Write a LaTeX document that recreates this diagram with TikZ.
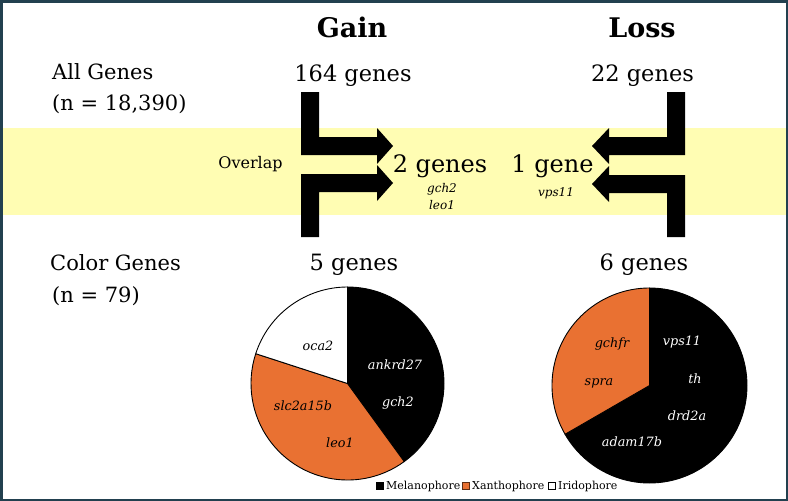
\documentclass[tikz,border=0pt]{standalone}
\usepackage{fontspec}
\setmainfont{DejaVu Serif}
\definecolor{bordercol}{HTML}{22404F}
\definecolor{bandcol}{HTML}{FFFDB3}
\definecolor{orangecol}{HTML}{E97132}
\tikzset{
  titletext/.style={font=\fontsize{27}{30}\selectfont\bfseries, anchor=base, inner sep=0pt},
  rowtext/.style={font=\fontsize{21}{25}\selectfont, anchor=base west, inner sep=0pt},
  counttext/.style={font=\fontsize{22.5}{26}\selectfont, anchor=base, inner sep=0pt},
  overlaptext/.style={font=\fontsize{24}{28}\selectfont, anchor=base, inner sep=0pt},
  genetext/.style={font=\fontsize{12}{14}\selectfont\itshape, anchor=base, inner sep=0pt},
  pietext/.style={font=\fontsize{12.8}{15}\selectfont\itshape, inner sep=0pt},
  legtext/.style={font=\fontsize{11}{13}\selectfont, anchor=west, inner sep=0pt},
  blockarrow/.style={fill=black},
  slice/.style={draw=black, line width=0.9pt, line join=round},
}
\begin{document}
\begin{tikzpicture}[x=1pt,y=-1pt]
\useasboundingbox (0,0) rectangle (788,501);
\fill[white] (0,0) rectangle (788,501);
% yellow overlap band
\fill[bandcol] (2,128) rectangle (786,215);

% titles
\node[titletext] (gain) at (352,37.5) {Gain};
\node[titletext] (loss) at (642,37.5) {Loss};

% row labels
\node[rowtext] (allgenes) at (52,79) {All Genes};
\node[rowtext] (alln) at (52,110) {(n = 18,390)};
\node[rowtext] (colorgenes) at (50,270) {Color Genes};
\node[rowtext] (colorn) at (52,302) {(n = 79)};

% counts
\node[counttext] (g164) at (353,81) {164 genes};
\node[counttext] (l22) at (642.5,81) {22 genes};
\node[counttext] (g5) at (354,270) {5 genes};
\node[counttext] (l6) at (644,270) {6 genes};

\node[font=\fontsize{16}{19}\selectfont, anchor=base, inner sep=0pt] (overlap) at (250.5,168) {Overlap};
\node[overlaptext] (g2) at (440,172) {2 genes};
\node[overlaptext] (l1) at (552.5,172) {1 gene};
\node[genetext] (gch2a) at (442,192) {gch2};
\node[genetext] (leo1a) at (442,209) {leo1};
\node[genetext] (vps11a) at (556,196) {vps11};

% block arrows (gain)
\fill[blockarrow] (301,92) -- (319,92) -- (319,137) -- (377,137) -- (377,128) -- (393,146) -- (377,164) -- (377,155) -- (301,155) -- cycle;
\fill[blockarrow] (301,237) -- (301,174) -- (377,174) -- (377,165) -- (393,183) -- (377,201) -- (377,192) -- (319,192) -- (319,237) -- cycle;
% block arrows (loss)
\fill[blockarrow] (685,92) -- (667,92) -- (667,137) -- (609,137) -- (609,128) -- (592,146) -- (609,164) -- (609,155) -- (685,155) -- cycle;
\fill[blockarrow] (685,237) -- (685,175) -- (609,175) -- (609,166) -- (592,184) -- (609,202) -- (609,193) -- (667,193) -- (667,237) -- cycle;

% pie gain
\coordinate (pg) at (347.5,383.5);
\filldraw[slice, fill=black] (pg) -- ++(-90:96.5) arc[start angle=-90, end angle=54, radius=96.5] -- cycle;
\filldraw[slice, fill=orangecol] (pg) -- ++(54:96.5) arc[start angle=54, end angle=198, radius=96.5] -- cycle;
\filldraw[slice, fill=white] (pg) -- ++(198:96.5) arc[start angle=198, end angle=270, radius=96.5] -- cycle;
\node[pietext] (oca2) at (318,346) {oca2};
\node[pietext, text=white] (ankrd27) at (395,365) {ankrd27};
\node[pietext, text=white] (gch2b) at (398,403) {gch2};
\node[pietext] (slc) at (303,406) {slc2a15b};
\node[pietext] (leo1b) at (340,443) {leo1};

% pie loss
\coordinate (pl) at (649.5,385.5);
\filldraw[slice, fill=black] (pl) -- ++(-90:97.5) arc[start angle=-90, end angle=150, radius=97.5] -- cycle;
\filldraw[slice, fill=orangecol] (pl) -- ++(150:97.5) arc[start angle=150, end angle=270, radius=97.5] -- cycle;
\node[pietext] (gchfr) at (612,344) {gchfr};
\node[pietext] (spra) at (599,383) {spra};
\node[pietext, text=white] (vps11b) at (682,342) {vps11};
\node[pietext, text=white] (th) at (695,379) {th};
\node[pietext, text=white] (drd2a) at (687,416) {drd2a};
\node[pietext, text=white] (adam) at (632,442) {adam17b};

% legend
\filldraw[draw=black, fill=black, line width=0.6pt] (376.5,482.5) rectangle (383.5,489.5);
\node[legtext] (lmel) at (386,486) {Melanophore};
\filldraw[draw=black!60!orangecol, fill=orangecol, line width=0.6pt] (462.5,482.5) rectangle (469.5,489.5);
\node[legtext] (lxan) at (472,486) {Xanthophore};
\filldraw[draw=black, fill=white, line width=0.6pt] (548.5,482.5) rectangle (555.5,489.5);
\node[legtext] (liri) at (558,486) {Iridophore};

% frame
\draw[bordercol, line width=2.5pt] (1.25,1.25) rectangle (786.75,499.75);
\end{tikzpicture}
\end{document}
